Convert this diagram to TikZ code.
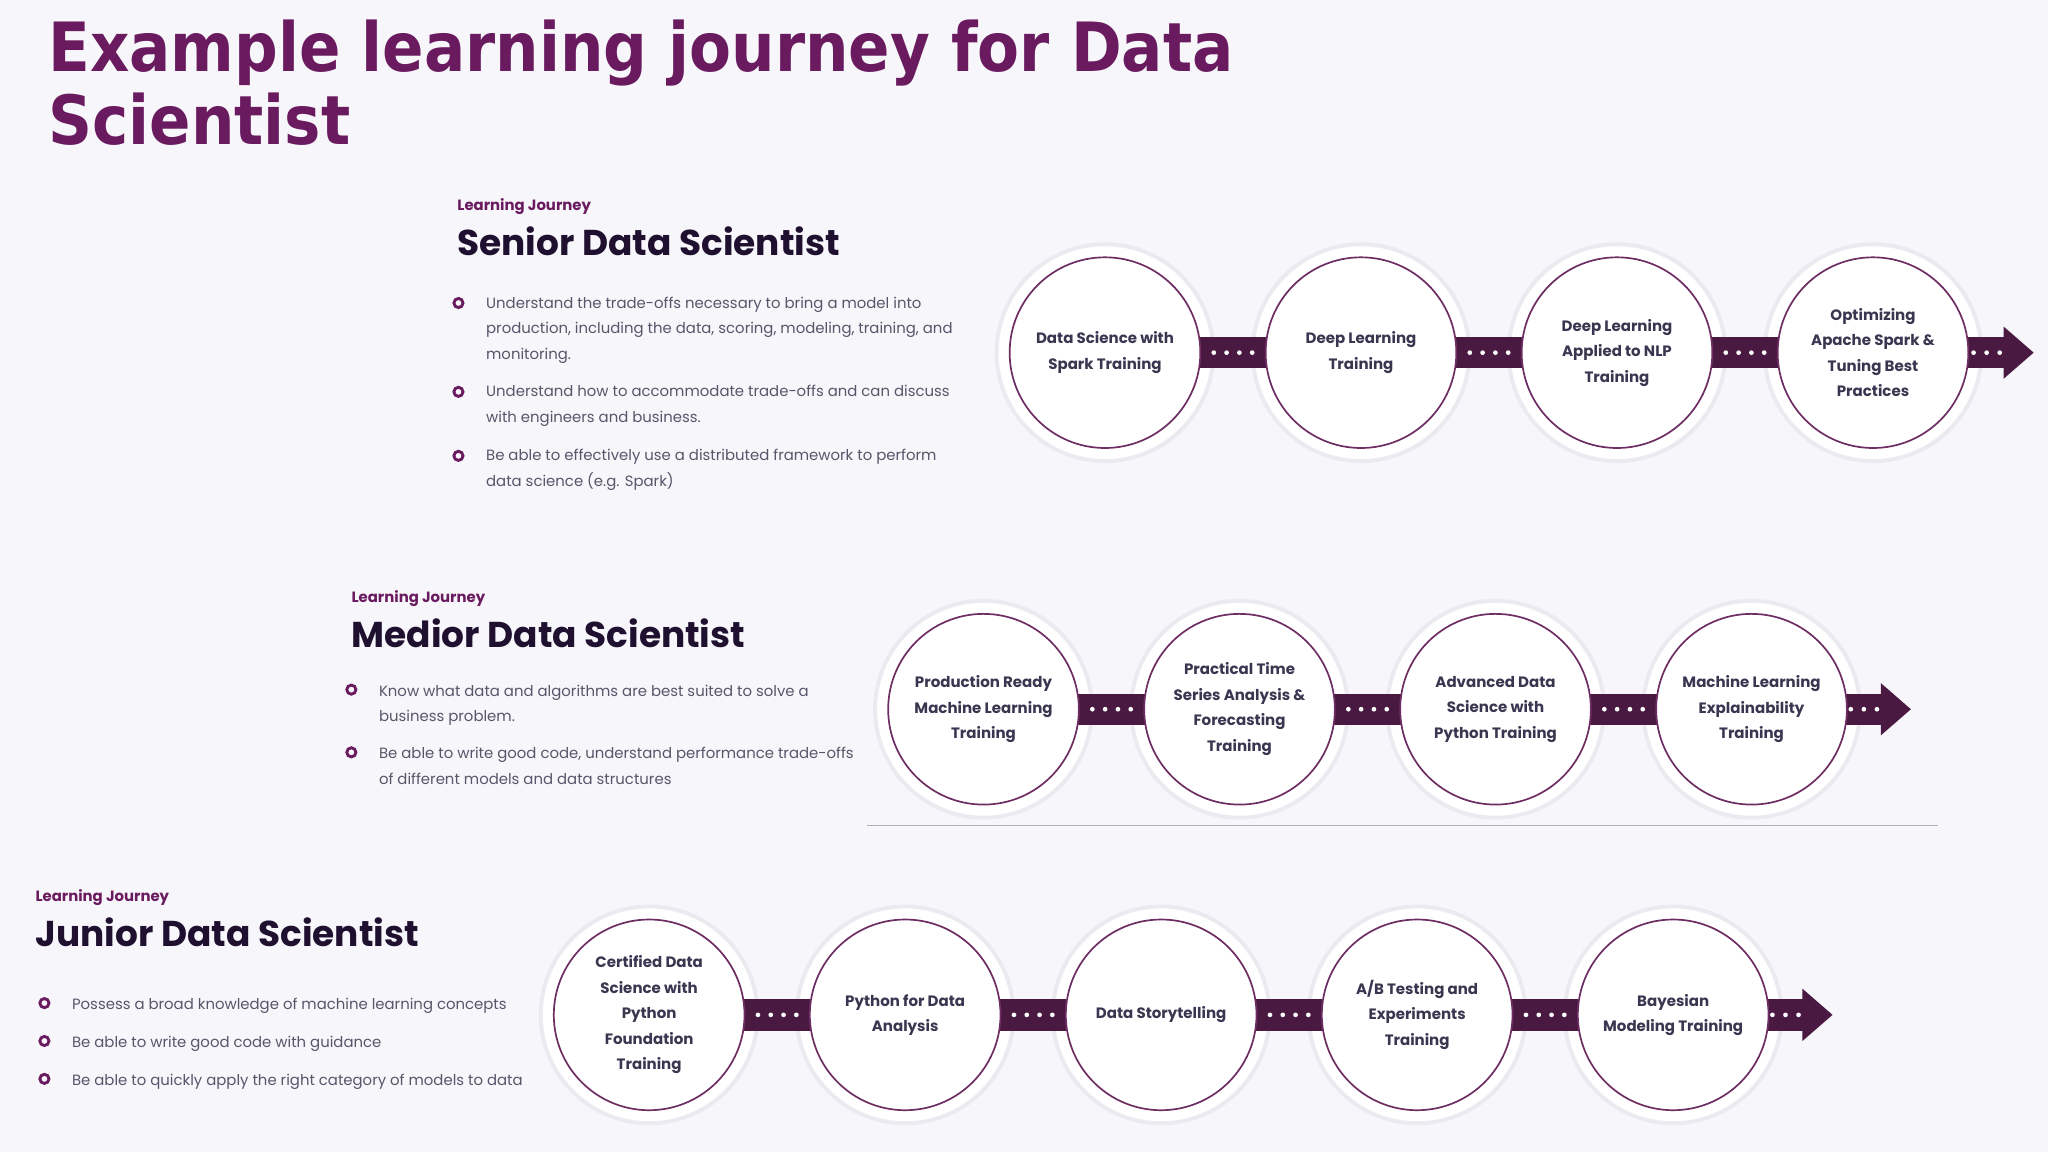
\documentclass[tikz,border=0pt]{standalone}
\usepackage{fontspec}
\setmainfont{Poppins}
\newfontfamily\titlefont{DejaVu Sans Condensed}
\usetikzlibrary{calc}
\definecolor{bg}{HTML}{F7F6FA}
\definecolor{tpurple}{HTML}{6A1B5F}
\definecolor{band}{HTML}{4A1942}
\definecolor{dark}{HTML}{1F1030}
\definecolor{ctext}{HTML}{3A3650}
\definecolor{btext}{HTML}{58566A}
\definecolor{halo}{HTML}{ECEAF0}
\definecolor{ring}{HTML}{6E2D63}
\tikzset{
 x=1pt,y=-1pt,
 halonode/.style={circle,fill=white,draw=halo,line width=3pt,minimum size=166pt,inner sep=0pt},
 stepcircle/.style={circle,fill=white,draw=ring,line width=1.3pt,minimum size=146pt,inner sep=0pt,align=center,font=\fontsize{11.5}{19.5}\selectfont\bfseries,text=ctext},
 bandline/.style={line width=24pt,band},
 dotmark/.style={circle,fill=white,inner sep=0pt,minimum size=3.6pt},
 kicker/.style={anchor=base west,inner sep=0pt,font=\fontsize{11.4}{13}\selectfont\bfseries,text=tpurple},
 heading/.style={anchor=base west,inner sep=0pt,font=\fontsize{27.5}{34}\selectfont\bfseries,text=dark},
 bullettext/.style={anchor=north west,inner sep=0pt,align=left,font=\fontsize{11.4}{19.6}\selectfont,text=btext},
 bulletmark/.style={circle,draw=tpurple,line width=2.2pt,inner sep=0pt,minimum size=7pt},
}
\newcommand{\myconn}[2]{%
 \draw[bandline] (#1.center) -- (#2.center);
 \foreach \t in {0.425,0.475,0.525,0.575} \node[dotmark] at ($(#1.center)!\t!(#2.center)$) {};}
\newcommand{\myarrow}[2]{%
 \draw[bandline] (#1.center) -- ($(#2)+(-22,0)$);
 \foreach \d in {-46,-36,-26} \node[dotmark] at ($(#2)+(\d,0)$) {};
 \fill[band] (#2) -- ++(-23,-20) -- ++(0,40) -- cycle;}
\begin{document}
\begin{tikzpicture}
\fill[bg] (0,0) rectangle (1568,882);
\useasboundingbox (0,0) rectangle (1568,882);
% title
\node[anchor=north west,inner sep=0pt,align=left,text=tpurple,font=\titlefont\fontsize{52}{56}\selectfont\bfseries] (title) at (37,15) {Example learning journey for Data\\Scientist};

% ---------- Senior
\node[kicker] (sk) at (350,161) {Learning Journey};
\node[heading] (sh) at (350,196) {Senior Data Scientist};
\node[bulletmark] (sb1) at (351,232) {};
\node[bullettext] (st1) at (372,227) {Understand the trade-offs necessary to bring a model into\\production, including the data, scoring, modeling, training, and\\monitoring.};
\node[bulletmark] (sb2) at (351,300) {};
\node[bullettext] (st2) at (372,295) {Understand how to accommodate trade-offs and can discuss\\with engineers and business.};
\node[bulletmark] (sb3) at (351,349) {};
\node[bullettext] (st3) at (372,344) {Be able to effectively use a distributed framework to perform\\data science (e.g. Spark)};
\foreach \i/\x in {1/846,2/1042,3/1238,4/1434} \node[halonode] (sh\i) at (\x,270) {};
\coordinate (send) at (1557,270);
\myconn{sh1}{sh2}\myconn{sh2}{sh3}\myconn{sh3}{sh4}\myarrow{sh4}{send}
\node[stepcircle] (sc1) at (sh1) {Data Science with\\Spark Training};
\node[stepcircle] (sc2) at (sh2) {Deep Learning\\Training};
\node[stepcircle] (sc3) at (sh3) {Deep Learning\\Applied to NLP\\Training};
\node[stepcircle] (sc4) at (sh4) {Optimizing\\Apache Spark \&\\Tuning Best\\Practices};

% ---------- Medior
\node[kicker] (mk) at (269,461) {Learning Journey};
\node[heading] (mh) at (269,496) {Medior Data Scientist};
\node[bulletmark] (mb1) at (269,528) {};
\node[bullettext] (mt1) at (290,524) {Know what data and algorithms are best suited to solve a\\business problem.};
\node[bulletmark] (mb2) at (269,576) {};
\node[bullettext] (mt2) at (290,572) {Be able to write good code, understand performance trade-offs\\of different models and data structures};
\foreach \i/\x in {1/753,2/949,3/1145,4/1341} \node[halonode] (mh\i) at (\x,543) {};
\coordinate (mend) at (1463,543);
\myconn{mh1}{mh2}\myconn{mh2}{mh3}\myconn{mh3}{mh4}\myarrow{mh4}{mend}
\node[stepcircle] (mc1) at (mh1) {Production Ready\\Machine Learning\\Training};
\node[stepcircle] (mc2) at (mh2) {Practical Time\\Series Analysis \&\\Forecasting\\Training};
\node[stepcircle] (mc3) at (mh3) {Advanced Data\\Science with\\Python Training};
\node[stepcircle] (mc4) at (mh4) {Machine Learning\\Explainability\\Training};
\coordinate (la) at (664,632); \coordinate (lb) at (1484,632);
\draw[gray!60,line width=0.8pt] (la) -- (lb);

% ---------- Junior
\node[kicker] (jk) at (27,690) {Learning Journey};
\node[heading] (jh) at (27,725) {Junior Data Scientist};
\node[bulletmark] (jb1) at (34,768) {};
\node[bullettext] (jt1) at (55,764) {Possess a broad knowledge of machine learning concepts};
\node[bulletmark] (jb2) at (34,797) {};
\node[bullettext] (jt2) at (55,793) {Be able to write good code with guidance};
\node[bulletmark] (jb3) at (34,826) {};
\node[bullettext] (jt3) at (55,822) {Be able to quickly apply the right category of models to data};
\foreach \i/\x in {1/497,2/693,3/889,4/1085,5/1281} \node[halonode] (jh\i) at (\x,777) {};
\coordinate (jend) at (1403,777);
\myconn{jh1}{jh2}\myconn{jh2}{jh3}\myconn{jh3}{jh4}\myconn{jh4}{jh5}\myarrow{jh5}{jend}
\node[stepcircle] (jc1) at (jh1) {Certified Data\\Science with\\Python\\Foundation\\Training};
\node[stepcircle] (jc2) at (jh2) {Python for Data\\Analysis};
\node[stepcircle] (jc3) at (jh3) {Data Storytelling};
\node[stepcircle] (jc4) at (jh4) {A/B Testing and\\Experiments\\Training};
\node[stepcircle] (jc5) at (jh5) {Bayesian\\Modeling Training};
\end{tikzpicture}
\end{document}
